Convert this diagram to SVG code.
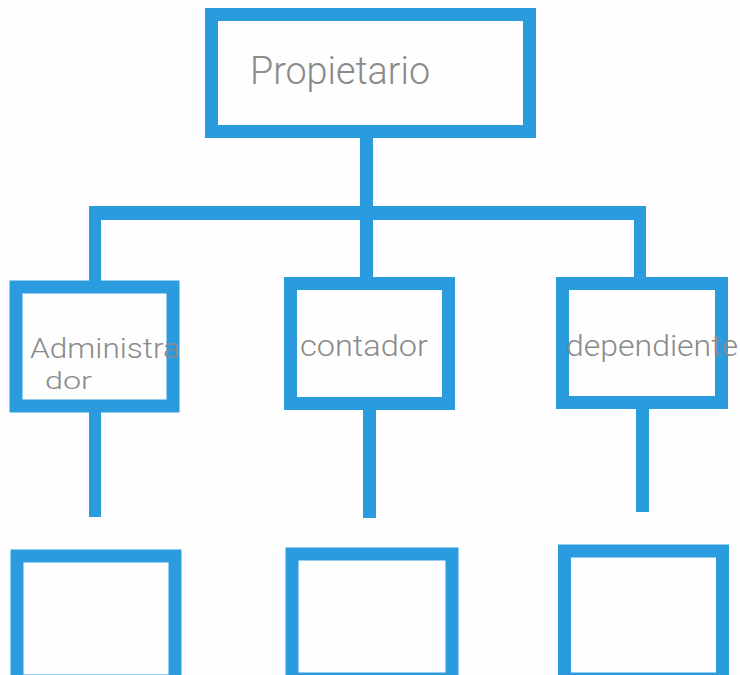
<svg xmlns="http://www.w3.org/2000/svg" width="740" height="675" viewBox="0 0 740 675">
<style>
.box{fill:none;stroke:#2b9be0;stroke-width:13}
.con{fill:#2b9be0}
.lbl{font-family:"Roboto","Liberation Sans",sans-serif;font-weight:300;fill:#8a8a8a}
</style>
<rect width="740" height="675" fill="#fefefe"/>
<g id="connectors">
<rect class="con" x="360" y="136" width="13" height="84"/>
<rect class="con" x="89" y="206" width="557" height="14"/>
<rect class="con" x="89" y="206" width="12" height="76"/>
<rect class="con" x="360" y="206" width="13" height="73"/>
<rect class="con" x="634" y="206" width="12" height="73"/>
<rect class="con" x="89" y="410" width="12" height="107"/>
<rect class="con" x="363" y="408" width="13" height="110"/>
<rect class="con" x="636" y="407" width="13" height="105"/>
</g>
<g id="propietario">
<rect class="box" x="211.5" y="14.5" width="318" height="117"/>
<text class="lbl" x="250" y="84" font-size="38" textLength="180" lengthAdjust="spacingAndGlyphs">Propietario</text>
</g>
<g id="administrador">
<rect class="box" x="16" y="287" width="157" height="119"/>
<text class="lbl" x="30" y="358" font-size="28" textLength="150" lengthAdjust="spacingAndGlyphs">Administra</text>
<text class="lbl" x="45" y="389" font-size="24" textLength="47" lengthAdjust="spacingAndGlyphs">dor</text>
</g>
<g id="contador">
<rect class="box" x="290.5" y="283.5" width="158" height="120"/>
<text class="lbl" x="300" y="356" font-size="30" textLength="128" lengthAdjust="spacingAndGlyphs">contador</text>
</g>
<g id="dependiente">
<rect class="box" x="562.5" y="283.5" width="159" height="119"/>
<text class="lbl" x="566" y="356" font-size="30" textLength="172" lengthAdjust="spacingAndGlyphs">dependiente</text>
</g>
<g id="sub1">
<rect class="box" x="17" y="556" width="158" height="125"/>
</g>
<g id="sub2">
<rect class="box" x="292" y="554" width="160" height="125"/>
</g>
<g id="sub3">
<rect class="box" x="564.5" y="551" width="158" height="128"/>
</g>
</svg>
